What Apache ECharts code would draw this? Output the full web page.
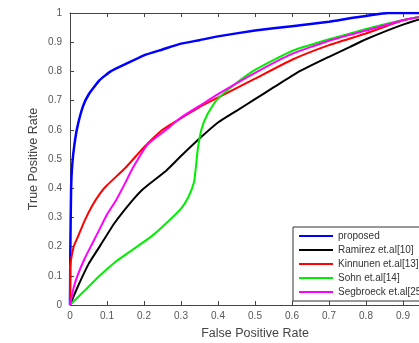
<!DOCTYPE html>
<html><head><meta charset="utf-8">
<script src="https://cdn.jsdelivr.net/npm/echarts@6/dist/echarts.min.js"></script>
<style>html,body{margin:0;padding:0;background:#fff}#c{width:419px;height:343px}</style>
</head><body><div id="c"></div>
<script>
const xTicks = [0,0.1,0.2,0.3,0.4,0.5,0.6,0.7,0.8,0.9,1];
const seriesNames = ['proposed','Ramirez et.al[10]','Kinnunen et.al[13]','Sohn et.al[14]','Segbroeck et.al[25]'];
const proposed = [[0,0],[0.001,0.2],[0.003,0.4],[0.006,0.48],[0.012,0.55],[0.02,0.61],[0.035,0.68],[0.05,0.72],[0.08,0.77],[0.11,0.8],[0.15,0.825],[0.2,0.855],[0.25,0.875],[0.3,0.895],[0.35,0.907],[0.4,0.92],[0.5,0.94],[0.6,0.955],[0.7,0.97],[0.76,0.983],[0.8,0.99],[0.86,1],[1,1]];
const ramirez = [[0,0],[0.02,0.06],[0.05,0.14],[0.08,0.2],[0.12,0.28],[0.17,0.36],[0.2,0.4],[0.26,0.46],[0.3,0.51],[0.35,0.57],[0.4,0.625],[0.45,0.665],[0.5,0.705],[0.55,0.745],[0.62,0.8],[0.7,0.85],[0.757,0.884],[0.8,0.91],[0.9,0.96],[1,1]];
const kinnunen = [[0,0],[0,0.13],[0.01,0.2],[0.02,0.23],[0.04,0.29],[0.06,0.34],[0.08,0.38],[0.1,0.41],[0.15,0.47],[0.2,0.54],[0.25,0.6],[0.3,0.64],[0.35,0.678],[0.4,0.71],[0.5,0.775],[0.6,0.84],[0.7,0.89],[0.8,0.93],[0.9,0.975],[1,1]];
const sohn = [[0,0],[0.04,0.05],[0.08,0.1],[0.12,0.145],[0.17,0.19],[0.22,0.235],[0.26,0.28],[0.3,0.33],[0.32,0.37],[0.335,0.42],[0.34,0.47],[0.345,0.53],[0.355,0.6],[0.37,0.65],[0.395,0.7],[0.45,0.76],[0.5,0.805],[0.6,0.87],[0.7,0.91],[0.8,0.945],[0.9,0.976],[1,1]];
const segbroeck = [[0,0],[0.01,0.06],[0.02,0.1],[0.04,0.16],[0.06,0.21],[0.08,0.26],[0.1,0.31],[0.125,0.36],[0.15,0.42],[0.17,0.47],[0.21,0.55],[0.26,0.6],[0.3,0.642],[0.35,0.682],[0.4,0.722],[0.5,0.795],[0.6,0.86],[0.7,0.905],[0.8,0.94],[0.9,0.975],[1,1]];
const colors = ['#0000ff','#000000','#ff0000','#00ee00','#ff00ff'];
const dataList = [proposed, ramirez, kinnunen, sohn, segbroeck];

const chart = echarts.init(document.getElementById('c'), null, {renderer:'canvas'});
const font = 'Liberation Sans, Arial, sans-serif';
const axisCommon = {
  min:0, max:1, interval:0.1,
  axisLine:{show:true,lineStyle:{color:'#444',width:1}},
  axisTick:{show:true,inside:true,length:4,lineStyle:{color:'#444'}},
  splitLine:{show:false},
  axisLabel:{color:'#555',fontSize:10,fontFamily:font,formatter:v=>String(Math.round(v*10)/10)}
};
chart.setOption({
  animation:false,
  grid:{left:70,top:13,width:370,height:292,containLabel:false,outerBoundsMode:'none'},
  xAxis:[
    Object.assign({}, axisCommon, {type:'value',position:'bottom',name:'False Positive Rate',nameLocation:'middle',nameGap:22,
      nameMoveOverlap:false,
      nameTextStyle:{color:'#444',fontSize:12.5,fontFamily:font},
      axisLabel:Object.assign({}, axisCommon.axisLabel, {margin:6})}),
    Object.assign({}, axisCommon, {type:'value',position:'top',axisLabel:{show:false}})
  ],
  yAxis:[
    Object.assign({}, axisCommon, {type:'value',name:'True Positive Rate',nameLocation:'middle',nameGap:30,
      nameMoveOverlap:false,
      nameTextStyle:{color:'#444',fontSize:12.5,fontFamily:font},
      axisLabel:Object.assign({}, axisCommon.axisLabel, {margin:8})})
  ],
  legend:{
    orient:'vertical', left:293, top:227,
    backgroundColor:'#fff', borderColor:'#333', borderWidth:1, borderRadius:0,
    padding:[4,40,4,6], itemGap:4, itemWidth:34, itemHeight:10,
    textStyle:{color:'#333',fontSize:10,fontFamily:font},
    data: seriesNames.map((n,i)=>({name:n, icon:'path://M0,4L34,4L34,6L0,6Z', itemStyle:{color:colors[i]}}))
  },
  series: dataList.map((d,i)=>({
    name: seriesNames[i], type:'line', xAxisIndex:0, yAxisIndex:0,
    data:d, showSymbol:false, smooth:0.15,
    lineStyle:{color:colors[i], width: i===0?2.5:2},
    itemStyle:{color:colors[i]}
  }))
});
</script></body></html>
